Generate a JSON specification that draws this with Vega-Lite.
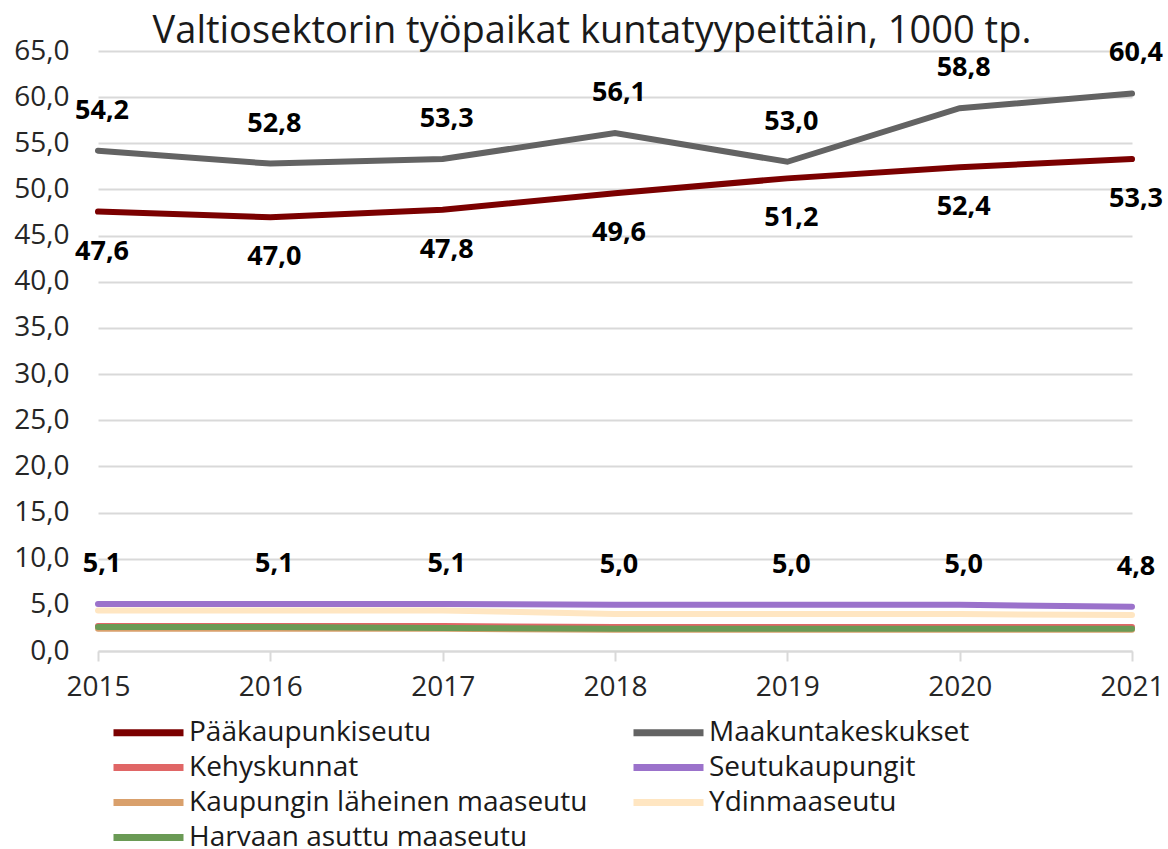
{
  "$schema": "https://vega.github.io/schema/vega-lite/v6.json",
  "width": 1034,
  "height": 600,
  "autosize": {"type": "none"},
  "padding": {"left": 98, "top": 51, "right": 36, "bottom": 198},
  "background": "white",
  "config": {
    "locale": {"number": {"decimal": ",", "thousands": " ", "grouping": [3], "currency": ["", " €"]}},
    "font": "Open Sans",
    "view": {"stroke": null}
  },
  "title": {
    "text": "Valtiosektorin työpaikat kuntatyypeittäin, 1000 tp.",
    "fontSize": 38,
    "font": "Open Sans",
    "fontWeight": "normal",
    "color": "#1a1a1a",
    "anchor": "middle",
    "offset": -14,
    "dx": -23
  },
  "data": {
    "values": [
      {"vuosi": 2015, "sarja": "Pääkaupunkiseutu", "arvo": 47.6},
      {"vuosi": 2016, "sarja": "Pääkaupunkiseutu", "arvo": 47.0},
      {"vuosi": 2017, "sarja": "Pääkaupunkiseutu", "arvo": 47.8},
      {"vuosi": 2018, "sarja": "Pääkaupunkiseutu", "arvo": 49.6},
      {"vuosi": 2019, "sarja": "Pääkaupunkiseutu", "arvo": 51.2},
      {"vuosi": 2020, "sarja": "Pääkaupunkiseutu", "arvo": 52.4},
      {"vuosi": 2021, "sarja": "Pääkaupunkiseutu", "arvo": 53.3},
      {"vuosi": 2015, "sarja": "Maakuntakeskukset", "arvo": 54.2},
      {"vuosi": 2016, "sarja": "Maakuntakeskukset", "arvo": 52.8},
      {"vuosi": 2017, "sarja": "Maakuntakeskukset", "arvo": 53.3},
      {"vuosi": 2018, "sarja": "Maakuntakeskukset", "arvo": 56.1},
      {"vuosi": 2019, "sarja": "Maakuntakeskukset", "arvo": 53.0},
      {"vuosi": 2020, "sarja": "Maakuntakeskukset", "arvo": 58.8},
      {"vuosi": 2021, "sarja": "Maakuntakeskukset", "arvo": 60.4},
      {"vuosi": 2015, "sarja": "Kehyskunnat", "arvo": 2.7},
      {"vuosi": 2016, "sarja": "Kehyskunnat", "arvo": 2.7},
      {"vuosi": 2017, "sarja": "Kehyskunnat", "arvo": 2.7},
      {"vuosi": 2018, "sarja": "Kehyskunnat", "arvo": 2.6},
      {"vuosi": 2019, "sarja": "Kehyskunnat", "arvo": 2.6},
      {"vuosi": 2020, "sarja": "Kehyskunnat", "arvo": 2.6},
      {"vuosi": 2021, "sarja": "Kehyskunnat", "arvo": 2.6},
      {"vuosi": 2015, "sarja": "Seutukaupungit", "arvo": 5.1},
      {"vuosi": 2016, "sarja": "Seutukaupungit", "arvo": 5.1},
      {"vuosi": 2017, "sarja": "Seutukaupungit", "arvo": 5.1},
      {"vuosi": 2018, "sarja": "Seutukaupungit", "arvo": 5.0},
      {"vuosi": 2019, "sarja": "Seutukaupungit", "arvo": 5.0},
      {"vuosi": 2020, "sarja": "Seutukaupungit", "arvo": 5.0},
      {"vuosi": 2021, "sarja": "Seutukaupungit", "arvo": 4.8},
      {"vuosi": 2015, "sarja": "Kaupungin läheinen maaseutu", "arvo": 2.4},
      {"vuosi": 2016, "sarja": "Kaupungin läheinen maaseutu", "arvo": 2.4},
      {"vuosi": 2017, "sarja": "Kaupungin läheinen maaseutu", "arvo": 2.4},
      {"vuosi": 2018, "sarja": "Kaupungin läheinen maaseutu", "arvo": 2.3},
      {"vuosi": 2019, "sarja": "Kaupungin läheinen maaseutu", "arvo": 2.3},
      {"vuosi": 2020, "sarja": "Kaupungin läheinen maaseutu", "arvo": 2.3},
      {"vuosi": 2021, "sarja": "Kaupungin läheinen maaseutu", "arvo": 2.3},
      {"vuosi": 2015, "sarja": "Ydinmaaseutu", "arvo": 4.4},
      {"vuosi": 2016, "sarja": "Ydinmaaseutu", "arvo": 4.4},
      {"vuosi": 2017, "sarja": "Ydinmaaseutu", "arvo": 4.4},
      {"vuosi": 2018, "sarja": "Ydinmaaseutu", "arvo": 4.0},
      {"vuosi": 2019, "sarja": "Ydinmaaseutu", "arvo": 4.0},
      {"vuosi": 2020, "sarja": "Ydinmaaseutu", "arvo": 4.0},
      {"vuosi": 2021, "sarja": "Ydinmaaseutu", "arvo": 3.9},
      {"vuosi": 2015, "sarja": "Harvaan asuttu maaseutu", "arvo": 2.6},
      {"vuosi": 2016, "sarja": "Harvaan asuttu maaseutu", "arvo": 2.6},
      {"vuosi": 2017, "sarja": "Harvaan asuttu maaseutu", "arvo": 2.5},
      {"vuosi": 2018, "sarja": "Harvaan asuttu maaseutu", "arvo": 2.4},
      {"vuosi": 2019, "sarja": "Harvaan asuttu maaseutu", "arvo": 2.4},
      {"vuosi": 2020, "sarja": "Harvaan asuttu maaseutu", "arvo": 2.4},
      {"vuosi": 2021, "sarja": "Harvaan asuttu maaseutu", "arvo": 2.4}
    ]
  },
  "encoding": {
    "x": {
      "field": "vuosi",
      "type": "quantitative",
      "scale": {"domain": [2015, 2021], "nice": false, "zero": false},
      "axis": {
        "title": null,
        "values": [2015, 2016, 2017, 2018, 2019, 2020, 2021],
        "format": "d",
        "grid": false,
        "domainColor": "#d9d9d9",
        "domainWidth": 2,
        "tickColor": "#d9d9d9",
        "tickWidth": 2,
        "tickSize": 10,
        "labelFontSize": 28,
        "labelColor": "#262626",
        "labelPadding": 12,
        "labelFont": "Open Sans",
        "labelFlush": false
      }
    },
    "y": {
      "field": "arvo",
      "type": "quantitative",
      "scale": {"domain": [0, 65], "nice": false},
      "axis": {
        "title": null,
        "values": [0, 5, 10, 15, 20, 25, 30, 35, 40, 45, 50, 55, 60, 65],
        "format": ".1f",
        "domain": false,
        "ticks": false,
        "gridColor": "#d9d9d9",
        "gridWidth": 2,
        "labelFontSize": 28,
        "labelColor": "#262626",
        "labelPadding": 29,
        "labelFont": "Open Sans"
      }
    }
  },
  "layer": [
    {
      "mark": {"type": "line", "strokeWidth": 6, "strokeCap": "round"},
      "encoding": {
        "color": {
          "field": "sarja",
          "type": "nominal",
          "sort": ["Pääkaupunkiseutu", "Maakuntakeskukset", "Kehyskunnat", "Seutukaupungit", "Kaupungin läheinen maaseutu", "Ydinmaaseutu", "Harvaan asuttu maaseutu"],
          "scale": {
            "domain": ["Pääkaupunkiseutu", "Maakuntakeskukset", "Kehyskunnat", "Seutukaupungit", "Kaupungin läheinen maaseutu", "Ydinmaaseutu", "Harvaan asuttu maaseutu"],
            "range": ["#7b0000", "#636363", "#e06666", "#9b72cb", "#d9a06c", "#ffe6c2", "#6a9a55"]
          },
          "legend": {
            "title": null,
            "orient": "none",
            "legendX": 33,
            "legendY": 664,
            "direction": "horizontal",
            "columns": 2,
            "symbolType": "M-2.5,0H2.5",
            "symbolSize": 784,
            "symbolStrokeWidth": 7,
            "labelFontSize": 28,
            "labelFont": "Open Sans",
            "labelColor": "#1a1a1a",
            "labelOffset": 23,
            "rowPadding": 3,
            "columnPadding": 31,
            "labelLimit": 600,
            "symbolLimit": 0
          }
        },
        "order": {"field": "vuosi"}
      }
    },
    {
      "transform": [{"filter": "datum.sarja === 'Maakuntakeskukset' || datum.sarja === 'Seutukaupungit'"}],
      "mark": {"type": "text", "dy": -40, "dx": 4, "fontSize": 27, "fontWeight": "bold", "color": "#000000", "font": "Open Sans"},
      "encoding": {"text": {"field": "arvo", "type": "quantitative", "format": ".1f"}}
    },
    {
      "transform": [{"filter": "datum.sarja === 'Pääkaupunkiseutu'"}],
      "mark": {"type": "text", "dy": 40, "dx": 4, "fontSize": 27, "fontWeight": "bold", "color": "#000000", "font": "Open Sans"},
      "encoding": {"text": {"field": "arvo", "type": "quantitative", "format": ".1f"}}
    }
  ]
}
